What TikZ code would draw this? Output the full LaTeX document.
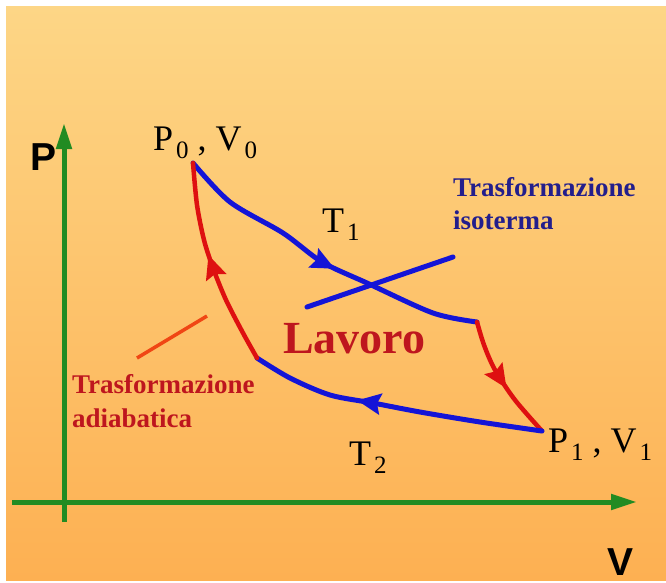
\documentclass[tikz,border=0pt]{standalone}
\usepackage{fontspec}
\setmainfont{Liberation Serif}
\newfontfamily\axisfont{Liberation Sans}
\usetikzlibrary{arrows.meta,decorations.markings}
\definecolor{bgtop}{RGB}{253,214,134}
\definecolor{bgbot}{RGB}{253,176,82}
\definecolor{axgreen}{RGB}{34,139,34}
\definecolor{curveblue}{RGB}{20,20,215}
\definecolor{curvered}{RGB}{222,16,16}
\definecolor{txtblue}{RGB}{35,30,140}
\definecolor{txtred}{RGB}{190,22,30}
\definecolor{ptrorange}{RGB}{240,70,20}
\newcommand\mysub[1]{\kern3pt\raisebox{-8pt}{\fontsize{25}{25}\selectfont #1}}
\tikzset{
  axis/.style={line width=5pt, axgreen, -{Triangle[length=26pt,width=15pt]}},
  curveb/.style={line width=5pt, curveblue, line cap=round, line join=round},
  curver/.style={line width=4.5pt, curvered, line cap=round, line join=round},
  midarrow/.style={postaction={decorate}, decoration={markings,
      mark=at position #1 with {\fill[line join=round] (6pt,0pt) -- (-18pt,11pt) -- (-14pt,0pt) -- (-18pt,-11pt) -- cycle;}}},
  lbl/.style={inner sep=0pt, anchor=base west, font=\fontsize{36}{40}\selectfont},
  note/.style={inner sep=0pt, anchor=base west, font=\fontsize{27}{32}\selectfont\bfseries},
  axlbl/.style={inner sep=0pt, anchor=base west, font=\axisfont\bfseries\fontsize{39}{40}\selectfont}
}
\begin{document}
\begin{tikzpicture}[x=1pt,y=-1pt]
\useasboundingbox (0,0) rectangle (666,582);
\fill[white] (0,0) rectangle (666,582);
\shade[top color=bgtop,bottom color=bgbot] (6,6) rectangle (666,580);
% axes
\coordinate (ytop) at (64,123);
\coordinate (ybot) at (64,522);
\coordinate (xl) at (12,502);
\coordinate (xr) at (637,502);
\draw[axis] (ybot) -- (ytop);
\draw[axis] (xl) -- (xr);
\node[axlbl] (plab) at (30,170) {P};
\node[axlbl] (vlab) at (607,575) {V};
% cycle corners
\coordinate (P0) at (193,163);
\coordinate (A) at (477,322);
\coordinate (P1) at (542,431);
\coordinate (B) at (257,358);
% isotherm T1
\draw[curveb, midarrow=0.52] plot[smooth, tension=0.5] coordinates
  {(P0) (230,202) (283,233) (322,262) (367,283) (433,313) (A)};
% adiabat down
\draw[curver, midarrow=0.52] plot[smooth, tension=0.5] coordinates
  {(A) (484,345) (495,370) (515,400) (P1)};
% isotherm T2
\draw[curveb, midarrow=0.61] plot[smooth, tension=0.5] coordinates
  {(P1) (480,422) (420,412) (373,403) (330,395) (290,378) (B)};
% adiabat up
\draw[curver, midarrow=0.52] plot[smooth, tension=0.5] coordinates
  {(B) (243,333) (226,300) (213,268) (204,240) (197,205) (P0)};
% isoterma pointer line
\coordinate (is1) at (307,307);
\coordinate (is2) at (453,257);
\draw[curveb] (is1) -- (is2);
% adiabatica pointer
\coordinate (ad1) at (137,358);
\coordinate (ad2) at (207,316);
\draw[ptrorange, line width=3.5pt] (ad1) -- (ad2);
% labels
\node[lbl] (p0lab) at (153,150) {P\mysub{0} , V\mysub{0}};
\node[lbl] (t1lab) at (322,232) {T\mysub{1}};
\node[lbl] (t2lab) at (349,465) {T\mysub{2}};
\node[lbl] (p1lab) at (548,452) {P\mysub{1} , V\mysub{1}};
\node[inner sep=0pt, anchor=base west, txtred, font=\fontsize{46}{50}\selectfont\bfseries] (lav) at (283,353) {Lavoro};
\node[note, txtblue] (iso1) at (453,196) {Trasformazione};
\node[note, txtblue] (iso2) at (453,229) {isoterma};
\node[note, txtred] (adi1) at (72,393) {Trasformazione};
\node[note, txtred] (adi2) at (72,427) {adiabatica};
\end{tikzpicture}
\end{document}
